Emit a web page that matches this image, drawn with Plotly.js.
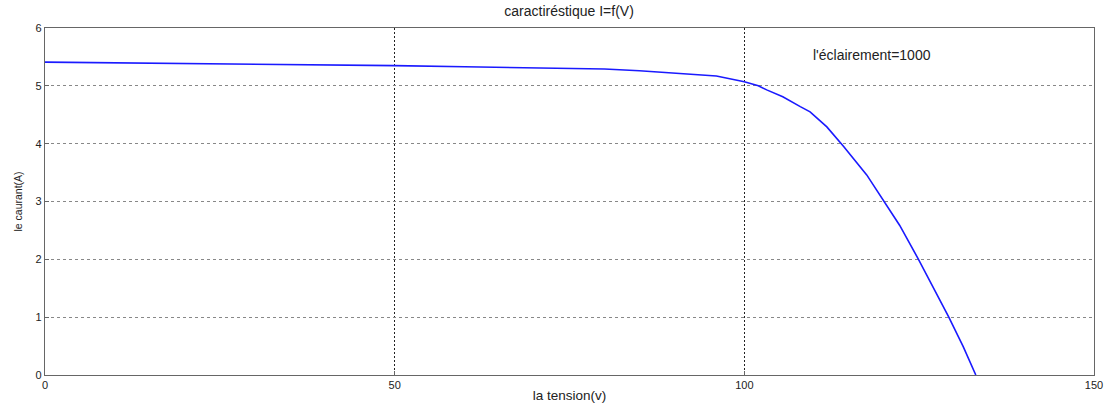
<!DOCTYPE html>
<html>
<head>
<meta charset="utf-8">
<script src="https://cdn.plot.ly/plotly-3.0.1.min.js"></script>
<style>html,body{margin:0;padding:0;background:#fff;}#chart{width:1105px;height:403px;}</style>
</head>
<body>
<div id="chart"></div>
<script>
// Data
const tension = [0, 10, 20, 30, 40, 50, 60, 70, 80, 85, 90, 93.7, 96, 100, 102, 103.2, 105.5, 108, 109.4, 111.8, 114.2, 117.5, 120, 122.2, 124.9, 127, 129.2, 131.3, 133.1];
const courant = [5.41, 5.40, 5.39, 5.38, 5.36, 5.35, 5.33, 5.31, 5.29, 5.26, 5.22, 5.19, 5.17, 5.07, 5.00, 4.93, 4.81, 4.64, 4.55, 4.29, 3.95, 3.46, 3.0, 2.59, 2.0, 1.53, 1.01, 0.49, 0.0];
const xTicks = [0, 50, 100, 150];
const yTicks = [0, 1, 2, 3, 4, 5, 6];
const titleText = "caractiréstique I=f(V)";
const xTitle = "la tension(v)";
const yTitle = "le caurant(A)";
const noteText = "l'éclairement=1000";
const noteX = 118.3, noteY = 5.53;

const fam = "Liberation Sans, Arial, sans-serif";
const font = {family: fam, size: 11, color: "#222"};

Plotly.newPlot("chart", [{
  x: tension, y: courant, type: "scatter", mode: "lines",
  line: {color: "#1a1aff", width: 1.6, shape: "linear"},
  hoverinfo: "skip", showlegend: false
}], {
  width: 1105, height: 403,
  margin: {l: 45, r: 11, t: 28, b: 28},
  paper_bgcolor: "#fff", plot_bgcolor: "#fff",
  font: font,
  title: {text: titleText, font: {family: fam, size: 14, color: "#222"}, x: 0.515, xanchor: "center", y: 0.985, yanchor: "top"},
  xaxis: {
    range: [0, 150], tickvals: xTicks, ticktext: xTicks.map(String),
    showgrid: true, gridcolor: "#222", griddash: "2px,2px", gridwidth: 1,
    zeroline: false, showline: true, linecolor: "#666", linewidth: 1.2, mirror: true,
    ticks: "inside", ticklen: 4, tickcolor: "#666",
    tickfont: font,
    title: {text: xTitle, font: {family: fam, size: 13.5, color: "#222"}, standoff: 1}
  },
  yaxis: {
    range: [0, 6], tickvals: yTicks, ticktext: yTicks.map(String),
    showgrid: true, gridcolor: "#888", griddash: "3px,3px", gridwidth: 1,
    zeroline: false, showline: true, linecolor: "#666", linewidth: 1.2, mirror: true,
    ticks: "inside", ticklen: 4, tickcolor: "#666",
    tickfont: font,
    title: {text: yTitle, font: {family: fam, size: 10.5, color: "#222"}, standoff: 10}
  },
  annotations: [{
    x: noteX, y: noteY, xref: "x", yref: "y", text: noteText, showarrow: false,
    font: {family: fam, size: 14, color: "#222"}, xanchor: "center", yanchor: "middle"
  }]
}, {displayModeBar: false, staticPlot: true});
</script>
</body>
</html>
